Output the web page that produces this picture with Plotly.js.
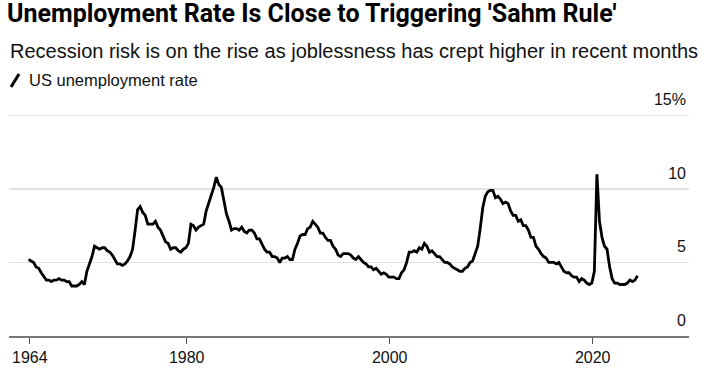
<!DOCTYPE html>
<html><head><meta charset="utf-8">
<script src="https://cdn.plot.ly/plotly-3.0.1.min.js"></script>
<style>html,body{margin:0;padding:0;background:#fff}#chart{width:709px;height:375px}</style>
</head><body><div id="chart"></div>
<script>
// US unemployment rate (%), quarterly readings (Mar, Jun, Sep, Dec), starting Jun 1964
const startYear = 1964;
const startMonth = 6;
const rate1960s = [5.2, 5.1, 5.0,
  4.7, 4.6, 4.3, 4.0,  3.8, 3.8, 3.7, 3.8,  3.8, 3.9, 3.8, 3.8,  3.7, 3.7, 3.4, 3.4,  3.4, 3.5, 3.7, 3.5];
const rate1970s = [4.4, 4.9, 5.4, 6.1,  6.0, 5.9, 6.0, 6.0,  5.8, 5.7, 5.5, 5.2,  4.9, 4.9, 4.8, 4.9,  5.1, 5.4, 5.9, 7.2,
  8.6, 8.8, 8.4, 8.2,  7.6, 7.6, 7.6, 7.8,  7.4, 7.2, 6.8, 6.4,  6.3, 5.9, 6.0, 6.0,  5.8, 5.7, 5.9, 6.0];
const rate1980s = [6.3, 7.6, 7.5, 7.2,  7.4, 7.5, 7.6, 8.5,  9.0, 9.6, 10.1, 10.8,  10.3, 10.1, 9.2, 8.3,  7.8, 7.2, 7.3, 7.3,
  7.2, 7.4, 7.1, 7.0,  7.2, 7.2, 7.0, 6.6,  6.6, 6.2, 5.9, 5.7,  5.7, 5.4, 5.4, 5.3,  5.0, 5.3, 5.3, 5.4];
const rate1990s = [5.2, 5.2, 5.9, 6.3,  6.8, 6.9, 6.9, 7.3,  7.4, 7.8, 7.6, 7.4,  7.0, 7.0, 6.7, 6.5,  6.5, 6.1, 5.9, 5.5,
  5.4, 5.6, 5.6, 5.6,  5.5, 5.3, 5.2, 5.4,  5.2, 5.0, 4.9, 4.7,  4.7, 4.5, 4.6, 4.4,  4.2, 4.3, 4.2, 4.0];
const rate2000s = [4.0, 4.0, 3.9, 3.9,  4.3, 4.5, 5.0, 5.7,  5.7, 5.8, 5.7, 6.0,  5.9, 6.3, 6.1, 5.7,  5.8, 5.6, 5.4, 5.4,
  5.2, 5.0, 5.0, 4.9,  4.7, 4.6, 4.5, 4.4,  4.4, 4.6, 4.7, 5.0,  5.1, 5.6, 6.1, 7.3,  8.7, 9.5, 9.8, 9.9];
const rate2010s = [9.9, 9.4, 9.5, 9.3,  9.0, 9.1, 9.0, 8.5,  8.2, 8.2, 7.8, 7.9,  7.5, 7.5, 7.2, 6.7,  6.7, 6.1, 5.9, 5.6,
  5.4, 5.3, 5.0, 5.0,  5.0, 4.9, 5.0, 4.7,  4.4, 4.3, 4.3, 4.1,  4.0, 4.0, 3.7, 3.9,  3.8, 3.6, 3.5, 3.6];
const rate2020s = [4.4, 11.0, 7.8, 6.7,  6.1, 5.9, 4.7, 3.9,  3.6, 3.6, 3.5, 3.5,  3.5, 3.6, 3.8, 3.7,  3.8, 4.1];

const tickDates = ['1964-07-15', '1980-01-01', '2000-01-01', '2020-01-01'];
const tickLabels = ['1964', '1980', '2000', '2020'];
const yTickVals = [0, 5, 10, 15];
const yTickLabels = ['0', '5', '10', '15%'];

const rates = [].concat(rate1960s, rate1970s, rate1980s, rate1990s, rate2000s, rate2010s, rate2020s);
const dates = [];
let y = startYear, m = startMonth;
for (let i = 0; i < rates.length; i++) {
  dates.push(y + '-' + String(m).padStart(2, '0') + '-01');
  m += 3; if (m > 12) { m -= 12; y += 1; }
}

const FONT = 'Liberation Sans, Arial, Helvetica, sans-serif';
const TITLEFONT = 'Roboto, Liberation Sans, Arial, sans-serif';

const trace = {
  x: dates, y: rates, type: 'scatter', mode: 'lines',
  line: {color: '#000000', width: 2.8, shape: 'linear'},
  name: 'US unemployment rate', hoverinfo: 'skip'
};

// plot area: y from 108 to 336 px (228 px for 15.5 units)
const PT = 108, PB = 336, PH = PB - PT;

const layout = {
  width: 709, height: 375,
  paper_bgcolor: '#ffffff', plot_bgcolor: '#ffffff',
  margin: {l: 9, r: 20, t: PT, b: 375 - PB, pad: 0},
  showlegend: false,
  font: {family: FONT, color: '#000000'},
  title: {
    text: "Unemployment Rate Is Close to Triggering 'Sahm Rule'",
    xref: 'container', yref: 'container', x: 7/709, xanchor: 'left', y: 1 - 4/375, yanchor: 'top',
    pad: {t: 0, l: 0, b: 0, r: 0},
    font: {family: TITLEFONT, size: 25, weight: 700, color: '#000000'}
  },
  xaxis: {
    type: 'date', range: ['1962-06-28', '2029-06-28'],
    tickvals: tickDates, ticktext: tickLabels,
    showgrid: false, zeroline: false,
    showline: true, linecolor: '#777777', linewidth: 2,
    ticks: 'outside', ticklen: 6, tickwidth: 1.3, tickcolor: '#555555',
    tickfont: {family: FONT, size: 16, color: '#111111'},
    fixedrange: true
  },
  yaxis: {
    range: [0, 15.5], side: 'right',
    tickvals: yTickVals, ticktext: yTickLabels,
    ticklabelposition: 'inside', ticklabelshift: -16, ticklabeloverflow: 'allow', ticks: '',
    showgrid: true, gridcolor: '#e2e2e2', gridwidth: 1.2,
    zeroline: false, showline: false,
    tickfont: {family: FONT, size: 16, color: '#111111'},
    fixedrange: true
  },
  annotations: [
    {text: 'Recession risk is on the rise as joblessness has crept higher in recent months',
     xref: 'paper', yref: 'paper', x: -1/680, y: (PB - 51) / PH, xanchor: 'left', yanchor: 'middle',
     showarrow: false, font: {family: FONT, size: 20, color: '#111111'}},
    {text: 'US unemployment rate',
     xref: 'paper', yref: 'paper', x: 18/680, y: (PB - 80) / PH, xanchor: 'left', yanchor: 'middle',
     showarrow: false, font: {family: FONT, size: 16.5, color: '#111111'}}
  ],
  shapes: [
    {type: 'line', xref: 'paper', yref: 'paper',
     x0: 2/680, y0: (PB - 87) / PH, x1: 10/680, y1: (PB - 74) / PH,
     line: {color: '#000000', width: 3}}
  ]
};

Plotly.newPlot('chart', [trace], layout, {displayModeBar: false, staticPlot: true});
</script>
</body></html>
